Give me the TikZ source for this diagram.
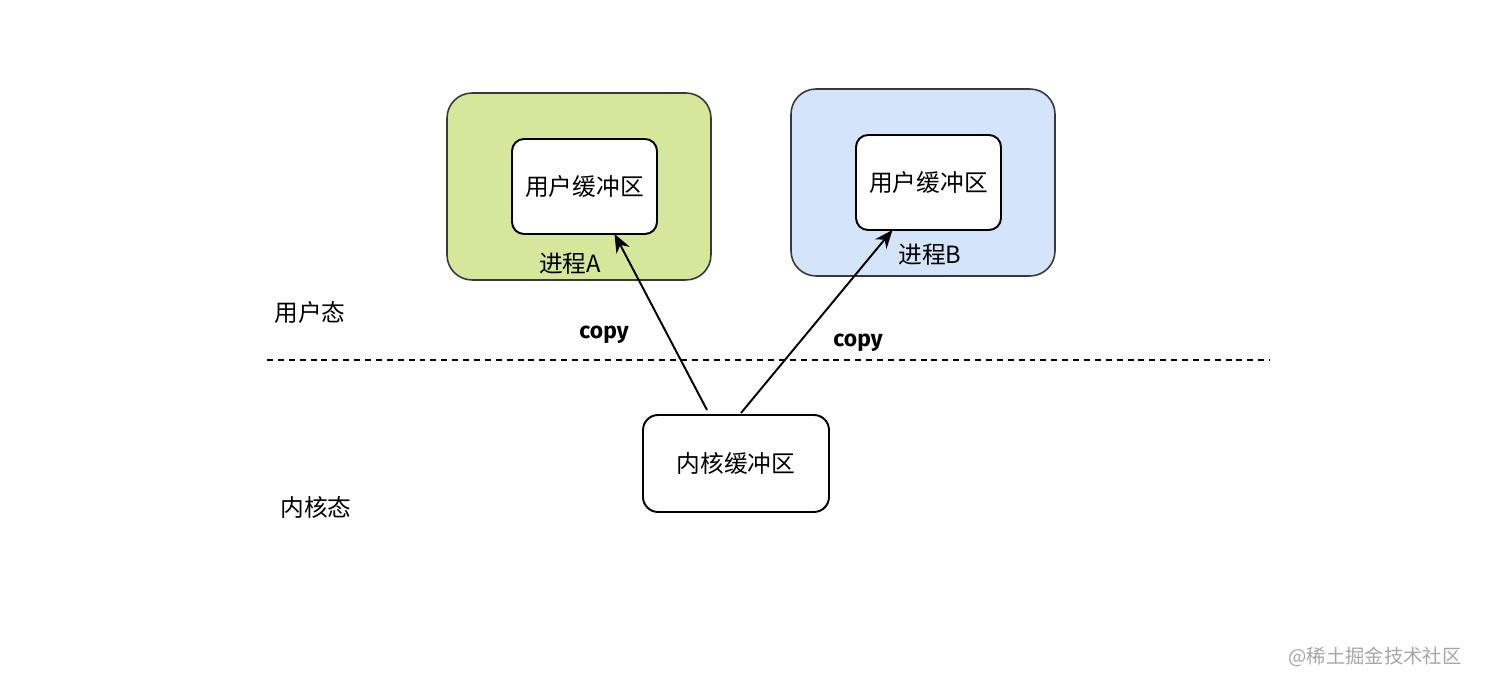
\documentclass[tikz,border=0pt]{standalone}
\usepackage{fontspec}
\setmainfont{Noto Sans CJK SC}
\newfontfamily\copyfont{Fira Sans}
\usetikzlibrary{arrows.meta,positioning,calc}
\definecolor{procgreen}{HTML}{D4E79B}
\definecolor{procblue}{HTML}{D4E4FA}
\definecolor{procedge}{HTML}{36393D}

\begin{document}
\begin{tikzpicture}[x=0.02cm, y=-0.02cm,
    procbox/.style={draw=procedge, line width=0.9pt, rounded corners=0.5cm,
        minimum width=5.28cm, minimum height=3.74cm},
    bufbox/.style={draw=black, fill=white, line width=1.1pt, rounded corners=0.24cm,
        minimum width=2.9cm, minimum height=1.9cm, font=\fontsize{13.5}{16}\selectfont},
    lbl/.style={font=\fontsize{13.5}{16}\selectfont},
    copylbl/.style={font=\copyfont\bfseries\fontsize{13}{15}\selectfont},
    cparrow/.style={line width=1.1pt, -{Stealth[length=10.5pt,width=8.5pt]}}]
                    \useasboundingbox (0, 0) rectangle (1488, 688);

                    % user space: the two processes
                    \node (procA) at (579, 186.5)[procbox, fill=procgreen] {};
                    \node (procB) at (923, 182.5)[procbox, fill=procblue] {};
                    \node (bufA) at (584.5, 186.5)[bufbox] {用户缓冲区};
                    \node (bufB) at (928.5, 182.5)[bufbox] {用户缓冲区};
                    \node (nameA) at (570, 264)[lbl] {进程A};
                    \node (nameB) at (930, 255)[lbl] {进程B};

                    % border between user and kernel space
                    \coordinate (L) at (267, 360);
                    \coordinate (R) at (1270, 360);
                    \draw [line width=0.9pt, dash pattern=on 3.4pt off 2.8pt] (L) -- (R);
                    \node (user) at (310, 313)[lbl] {用户态};
                    \node (kernel) at (316, 507)[lbl] {内核态};

                    % kernel buffer
                    \node (kern) at (736, 463.5)[bufbox, minimum width=3.72cm,
                        minimum height=1.94cm, rounded corners=0.3cm] {内核缓冲区};

                    \coordinate (srcA) at (707, 410);
                    \coordinate (srcB) at (741, 413);
                    \coordinate (dstA) at ($(bufA.south) + (30, -1)$);
                    \coordinate (dstB) at ($(bufB.south) + (-36, -1)$);
                    \draw [cparrow] (srcA) -- (dstA);
                    \draw [cparrow] (srcB) -- (dstB);
                    \node (copyA) at (604, 335)[copylbl] {copy};
                    \node (copyB) at (858, 343)[copylbl] {copy};

                    \node (mark) at (1375, 657)[text=black!35,
                        font=\fontsize{11}{13}\selectfont] {@稀土掘金技术社区};
                \end{tikzpicture}
\end{document}
